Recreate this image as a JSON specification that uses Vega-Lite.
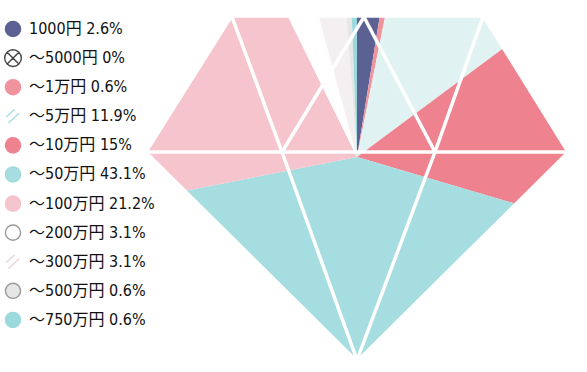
{
  "$schema": "https://vega.github.io/schema/vega-lite/v6.json",
  "width": 587,
  "height": 372,
  "padding": 0,
  "autosize": {"type": "none"},
  "background": "white",
  "config": {"view": {"stroke": null}},
  "datasets": {
    "income": [
      {"range": "1000円", "pct": 2.6, "order": 1},
      {"range": "～5000円", "pct": 0, "order": 2},
      {"range": "～1万円", "pct": 0.6, "order": 3},
      {"range": "～5万円", "pct": 11.9, "order": 4},
      {"range": "～10万円", "pct": 15, "order": 5},
      {"range": "～50万円", "pct": 43.1, "order": 6},
      {"range": "～100万円", "pct": 21.2, "order": 7},
      {"range": "～200万円", "pct": 3.1, "order": 8},
      {"range": "～300万円", "pct": 3.1, "order": 9},
      {"range": "～500万円", "pct": 0.6, "order": 10},
      {"range": "～750万円", "pct": 0.6, "order": 11}
    ],
    "mask": [
      {"poly": "left", "k": 1, "gx": -12.5, "gy": 14.0},
      {"poly": "left", "k": 2, "gx": -21.0, "gy": 0.5},
      {"poly": "left", "k": 3, "gx": 0, "gy": -20.3},
      {"poly": "left", "k": 4, "gx": 0, "gy": -21.5},
      {"poly": "left", "k": 5, "gx": -25, "gy": -21.5},
      {"poly": "left", "k": 6, "gx": -25, "gy": 14.0},
      {"poly": "right", "k": 1, "gx": 12.6, "gy": 14.0},
      {"poly": "right", "k": 2, "gx": 21.0, "gy": 0.5},
      {"poly": "right", "k": 3, "gx": 0, "gy": -20.3},
      {"poly": "right", "k": 4, "gx": 0, "gy": -21.5},
      {"poly": "right", "k": 5, "gx": 23, "gy": -21.5},
      {"poly": "right", "k": 6, "gx": 23, "gy": 14.0},
      {"poly": "top", "k": 1, "gx": -25, "gy": 14.0},
      {"poly": "top", "k": 2, "gx": 23, "gy": 14.0},
      {"poly": "top", "k": 3, "gx": 23, "gy": 15.7},
      {"poly": "top", "k": 4, "gx": -25, "gy": 15.7}
    ],
    "facets": [
      {"gx": -21.0, "gy": 0.5, "gx2": 21.0, "gy2": 0.5},
      {"gx": -12.5, "gy": 14.0, "gx2": -7.5, "gy2": 0.5},
      {"gx": -7.5, "gy": 0.5, "gx2": 0.7, "gy2": 14.0},
      {"gx": 0.7, "gy": 14.0, "gx2": 7.8, "gy2": 0.5},
      {"gx": 7.8, "gy": 0.5, "gx2": 12.6, "gy2": 14.0},
      {"gx": -7.5, "gy": 0.5, "gx2": 0, "gy2": -20.3},
      {"gx": 7.8, "gy": 0.5, "gx2": 0, "gy2": -20.3}
    ]
  },
  "layer": [
    {
      "layer": [
        {
          "data": {"name": "income"},
          "mark": {"type": "arc", "outerRadius": 215, "stroke": null},
          "encoding": {
            "x": {"datum": 0, "type": "quantitative", "scale": {"domain": [-35.7, 23.0], "nice": false, "zero": false}, "axis": null},
            "y": {"datum": 0, "type": "quantitative", "scale": {"domain": [-21.5, 15.7], "nice": false, "zero": false}, "axis": null},
            "theta": {"field": "pct", "type": "quantitative", "stack": true},
            "order": {"field": "order", "type": "quantitative"},
            "color": {
              "field": "range", "type": "nominal", "legend": null,
              "scale": {
                "domain": ["1000円", "～5000円", "～1万円", "～5万円", "～10万円", "～50万円", "～100万円", "～200万円", "～300万円", "～500万円", "～750万円"],
                "range": ["#5b6193", "#ffffff", "#f1939d", "#e1f2f3", "#ee838f", "#a6dde0", "#f6c4cc", "#ffffff", "#f4eff0", "#e6e6e6", "#9cd9dd"]
              }
            }
          }
        },
        {
          "data": {"name": "mask"},
          "mark": {"type": "line", "fill": "white", "stroke": "white", "strokeWidth": 1.5, "interpolate": "linear"},
          "encoding": {
            "x": {"field": "gx", "type": "quantitative", "scale": {"domain": [-35.7, 23.0], "nice": false, "zero": false}, "axis": null},
            "y": {"field": "gy", "type": "quantitative", "scale": {"domain": [-21.5, 15.7], "nice": false, "zero": false}, "axis": null},
            "detail": {"field": "poly", "type": "nominal"},
            "order": {"field": "k", "type": "quantitative"}
          }
        },
        {
          "data": {"name": "facets"},
          "mark": {"type": "rule", "color": "white", "strokeWidth": 3.5},
          "encoding": {
            "x": {"field": "gx", "type": "quantitative", "scale": {"domain": [-35.7, 23.0], "nice": false, "zero": false}, "axis": null},
            "y": {"field": "gy", "type": "quantitative", "scale": {"domain": [-21.5, 15.7], "nice": false, "zero": false}, "axis": null},
            "x2": {"field": "gx2"},
            "y2": {"field": "gy2"}
          }
        }
      ]
    },
    {
      "data": {"name": "income"},
      "layer": [
        {
          "mark": {"type": "point", "filled": true, "size": 230, "strokeWidth": 1.4, "opacity": 1},
          "encoding": {
            "x": {"datum": -34.4, "type": "quantitative", "scale": {"domain": [-35.7, 23.0], "nice": false, "zero": false}, "axis": null},
            "y": {"field": "order", "type": "quantitative", "axis": null, "scale": {"domain": [0.0034, 12.79], "reverse": true, "nice": false, "zero": false}},
            "color": {"field": "range", "type": "nominal", "legend": null},
            "stroke": {
              "field": "range", "type": "nominal", "legend": null,
              "scale": {
                "domain": ["1000円", "～5000円", "～1万円", "～5万円", "～10万円", "～50万円", "～100万円", "～200万円", "～300万円", "～500万円", "～750万円"],
                "range": ["#5b6193", "#444444", "#f1939d", "#a9dde0", "#ee838f", "#a0dadd", "#f6c1ca", "#9a9a9a", "#ead3d8", "#9a9a9a", "#9cd9dd"]
              }
            },
            "shape": {
              "field": "range", "type": "nominal", "legend": null,
              "scale": {
                "domain": ["1000円", "～5000円", "～1万円", "～5万円", "～10万円", "～50万円", "～100万円", "～200万円", "～300万円", "～500万円", "～750万円"],
                "range": [
                  "circle",
                  "M-1.1,0A1.1,1.1 0 1,1 1.1,0A1.1,1.1 0 1,1 -1.1,0Z M-0.78,-0.78L0.78,0.78 M-0.78,0.78L0.78,-0.78",
                  "circle",
                  "M-0.9,0.1L0.2,-0.9 M-0.6,0.9L0.8,-0.4",
                  "circle",
                  "circle",
                  "circle",
                  "circle",
                  "M-0.9,0.1L0.2,-0.9 M-0.6,0.9L0.8,-0.4",
                  "circle",
                  "circle"
                ]
              }
            }
          }
        },
        {
          "mark": {
            "type": "text", "align": "left", "baseline": "middle",
            "font": "DejaVu Sans Condensed, Noto Sans CJK JP, sans-serif",
            "fontSize": 16, "color": "#111111",
            "text": {"expr": "datum.range + ' ' + datum.pct + '%'"}
          },
          "encoding": {
            "x": {"datum": -32.8, "type": "quantitative", "scale": {"domain": [-35.7, 23.0], "nice": false, "zero": false}, "axis": null},
            "y": {"field": "order", "type": "quantitative", "axis": null, "scale": {"domain": [0.0034, 12.79], "reverse": true, "nice": false, "zero": false}}
          }
        }
      ]
    }
  ],
  "resolve": {"scale": {"y": "independent"}}
}
